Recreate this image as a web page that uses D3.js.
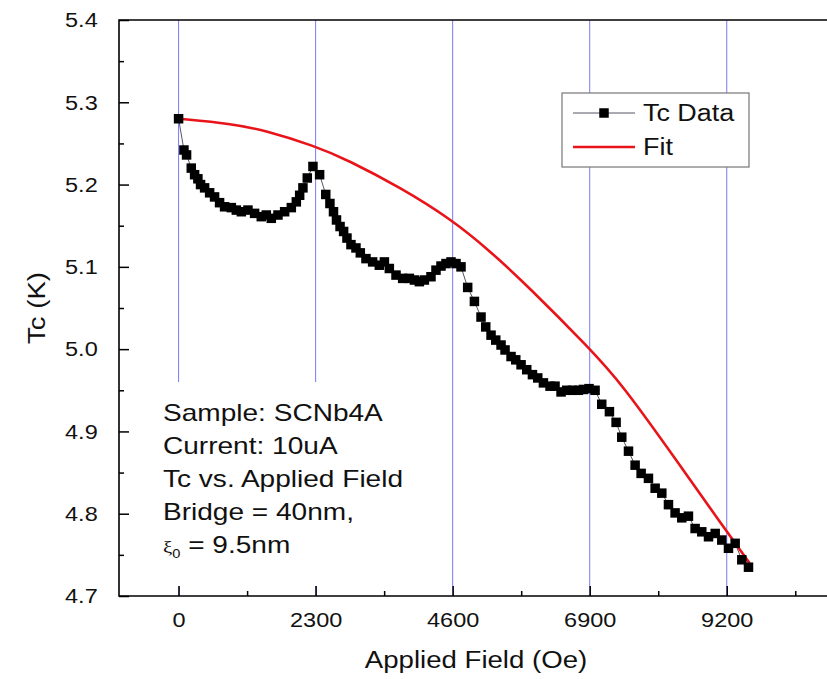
<!DOCTYPE html>
<html>
<head>
<meta charset="utf-8">
<script src="https://cdn.jsdelivr.net/npm/d3@7"></script>
<style>
  html, body { margin: 0; padding: 0; background: #fff; }
  svg { display: block; font-family: "Liberation Sans", Arial, sans-serif; }
</style>
</head>
<body>
<svg id="chart" width="827" height="679"></svg>
<script>
// ---- data ----
const fieldOe = [0, 90, 134, 213, 269, 324, 369, 437, 521, 604, 688, 772, 885, 969, 1053, 1164, 1276, 1388, 1472, 1556,
  1668, 1780, 1892, 1976, 2032, 2087, 2160, 2255, 2367, 2470, 2540, 2600, 2650, 2710, 2770, 2826, 2893, 2977, 3050,
  3145, 3257, 3369, 3454, 3537, 3649, 3761, 3873, 3958, 4041, 4125, 4236, 4320, 4404, 4488, 4572, 4656, 4740, 4852,
  4965, 5076, 5155, 5244, 5323, 5412, 5479, 5580, 5659, 5748, 5843, 5939, 6028, 6123, 6234, 6318, 6419, 6514, 6610,
  6711, 6795, 6889, 6990, 7102, 7231, 7343, 7438, 7551, 7662, 7763, 7886, 7998, 8110, 8222, 8333, 8445, 8557, 8669,
  8781, 8894, 9006, 9117, 9229, 9341, 9453, 9565];
const tcData = [5.280, 5.242, 5.236, 5.220, 5.212, 5.207, 5.200, 5.196, 5.190, 5.185, 5.178, 5.173, 5.172, 5.169, 5.167,
  5.169, 5.165, 5.161, 5.163, 5.159, 5.163, 5.167, 5.172, 5.179, 5.187, 5.196, 5.208, 5.222, 5.212, 5.188, 5.177,
  5.167, 5.157, 5.149, 5.143, 5.135, 5.127, 5.123, 5.117, 5.110, 5.106, 5.102, 5.106, 5.098, 5.090, 5.086, 5.086,
  5.084, 5.082, 5.084, 5.088, 5.096, 5.101, 5.104, 5.106, 5.104, 5.100, 5.075, 5.058, 5.039, 5.027, 5.017, 5.011,
  5.005, 4.999, 4.991, 4.987, 4.981, 4.975, 4.969, 4.965, 4.959, 4.955, 4.955, 4.948, 4.950, 4.950, 4.950, 4.951,
  4.952, 4.950, 4.933, 4.924, 4.911, 4.893, 4.876, 4.859, 4.849, 4.843, 4.831, 4.825, 4.811, 4.801, 4.795, 4.797,
  4.782, 4.778, 4.772, 4.776, 4.768, 4.758, 4.764, 4.744, 4.735];

const fitField = [0, 885, 1444, 2283, 2838, 3733, 4572, 5200, 5871, 6895, 7438, 8384, 9162, 9582];
const fitTc = [5.280, 5.274, 5.266, 5.247, 5.230, 5.196, 5.158, 5.121, 5.076, 5.001, 4.958, 4.862, 4.782, 4.740];

const xMajorTicks = [0, 2300, 4600, 6900, 9200];
const xMinorTicks = [1150, 3450, 5750, 8050, 10350];
const yMajorTicks = [4.7, 4.8, 4.9, 5.0, 5.1, 5.2, 5.3, 5.4];
const yMinorTicks = [4.75, 4.85, 4.95, 5.05, 5.15, 5.25, 5.35];
const gridFieldsAll = [0, 2300, 4600, 6900, 9200];

const legendLabels = ["Tc Data", "Fit"];
const noteLines = ["Sample: SCNb4A", "Current: 10uA", "Tc vs. Applied Field", "Bridge = 40nm,"];

// ---- layout ----
const svg = d3.select("#chart");
const L = 119, T = 20, B = 596, R = 834;
const x = d3.scaleLinear().domain([-1000, 11000]).range([L, R]);
const y = d3.scaleLinear().domain([4.7, 5.4]).range([B, T]);

const gridColor = "#7a7af5";
const redColor = "#e8141a";
const SX = 1.12;

// gridlines
svg.append("g").selectAll("line").data(gridFieldsAll).join("line")
  .attr("x1", d => x(d)).attr("x2", d => x(d))
  .attr("y1", T).attr("y2", B)
  .attr("stroke", gridColor).attr("stroke-width", 1);

// white panel behind the note text
svg.append("rect").attr("x", 150).attr("y", 382).attr("width", 285).attr("height", 204).attr("fill", "#fff");

// axes
const xAxisMajor = d3.axisBottom(x).tickValues(xMajorTicks).tickSize(-10).tickPadding(16).tickFormat(d3.format("d"));
const xAxisMinor = d3.axisBottom(x).tickValues(xMinorTicks).tickSize(-5).tickFormat("");
const yAxisMajor = d3.axisLeft(y).tickValues(yMajorTicks).tickSize(-10).tickPadding(19).tickFormat(d3.format(".1f"));
const yAxisMinor = d3.axisLeft(y).tickValues(yMinorTicks).tickSize(-5).tickFormat("");

function styleAxis(g) {
  g.select(".domain").remove();
  g.selectAll("line").attr("stroke", "#000").attr("stroke-width", 1.5);
  g.selectAll("text").attr("font-size", 21).attr("fill", "#111")
    .attr("font-family", "'Liberation Sans', Arial, sans-serif")
    .attr("transform", `scale(${SX},1)`);
}
svg.append("g").attr("transform", `translate(0,${B})`).call(xAxisMajor).call(styleAxis);
svg.append("g").attr("transform", `translate(0,${B})`).call(xAxisMinor).call(styleAxis);
svg.append("g").attr("transform", `translate(${L},0)`).call(yAxisMajor).call(styleAxis);
svg.append("g").attr("transform", `translate(${L},0)`).call(yAxisMinor).call(styleAxis);

// frame lines
svg.append("path").attr("d", `M${R},${T}H${L}V${B}H${R}`)
  .attr("fill", "none").attr("stroke", "#000").attr("stroke-width", 1.6);

// data connecting line (thin grey)
const pts = fieldOe.map((f, i) => [f, tcData[i]]);
svg.append("path").datum(pts)
  .attr("d", d3.line().x(d => x(d[0])).y(d => y(d[1])))
  .attr("fill", "none").attr("stroke", "#556").attr("stroke-width", 1);

// fit curve
const fitPts = fitField.map((f, i) => [f, fitTc[i]]);
svg.append("path").datum(fitPts)
  .attr("d", d3.line().x(d => x(d[0])).y(d => y(d[1])).curve(d3.curveBasis))
  .attr("fill", "none").attr("stroke", redColor).attr("stroke-width", 2.6);

// data squares
const S = 9.5;
svg.append("g").selectAll("rect").data(pts).join("rect")
  .attr("x", d => x(d[0]) - S / 2).attr("y", d => y(d[1]) - S / 2)
  .attr("width", S).attr("height", S).attr("fill", "#000");

// axis titles
svg.append("text").attr("transform", `translate(476,668) scale(1.15,1)`)
  .attr("text-anchor", "middle").attr("font-size", 24).attr("fill", "#111").text("Applied Field (Oe)");
svg.append("text").attr("transform", `translate(45,308) rotate(-90) scale(1.15,1)`)
  .attr("text-anchor", "middle").attr("font-size", 24).attr("fill", "#111").text("Tc (K)");

// legend
const lg = svg.append("g");
lg.append("rect").attr("x", 562).attr("y", 93).attr("width", 187).attr("height", 74)
  .attr("fill", "#fff").attr("stroke", "#777").attr("stroke-width", 1.2);
const rowY = [113, 147];
lg.append("line").attr("x1", 573).attr("x2", 635).attr("y1", rowY[0]).attr("y2", rowY[0])
  .attr("stroke", "#556").attr("stroke-width", 1);
lg.append("rect").attr("x", 604 - S / 2).attr("y", rowY[0] - S / 2).attr("width", S).attr("height", S).attr("fill", "#000");
lg.append("line").attr("x1", 573).attr("x2", 635).attr("y1", rowY[1]).attr("y2", rowY[1])
  .attr("stroke", redColor).attr("stroke-width", 2.6);
lg.selectAll("text").data(legendLabels).join("text")
  .attr("transform", (d, i) => `translate(643,${rowY[i] + 8}) scale(1.17,1)`)
  .attr("font-size", 23).attr("fill", "#111").text(d => d);

// note text
const noteBase = [421, 454, 487, 520, 553];
const ng = svg.append("g");
ng.selectAll("text.note").data(noteLines).join("text").attr("class", "note")
  .attr("transform", (d, i) => `translate(163,${noteBase[i]}) scale(1.22,1)`)
  .attr("font-size", 23).attr("fill", "#111").text(d => d);
const xi = ng.append("text").attr("transform", `translate(163,${noteBase[4]}) scale(1.22,1)`)
  .attr("font-size", 23).attr("fill", "#111");
xi.append("tspan").attr("font-family", "'Liberation Serif', 'DejaVu Serif', serif").attr("font-size", 17).text("ξ");
xi.append("tspan").attr("font-size", 12).attr("dy", 5).text("0");
xi.append("tspan").attr("dy", -5).text(" = 9.5nm");
</script>
</body>
</html>
